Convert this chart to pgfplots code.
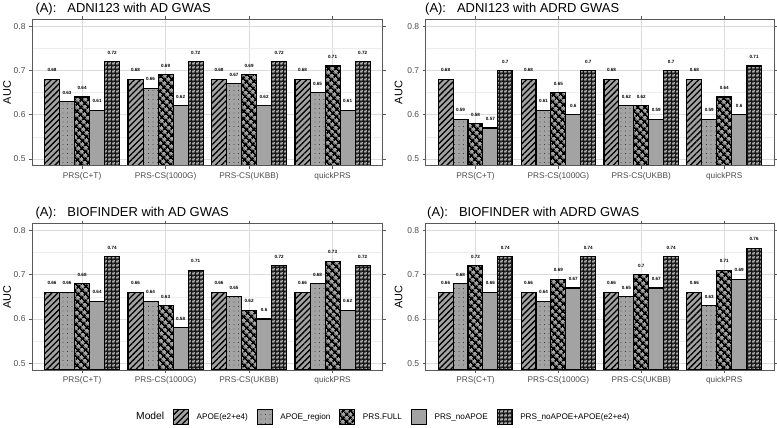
\documentclass[border=0pt]{standalone}
\usepackage{pgfplots}
\pgfplotsset{compat=1.18}
\usepackage{pgfplotstable}
\usepackage{fontspec}
\setmainfont{Liberation Sans}
\usetikzlibrary{patterns,patterns.meta}

\definecolor{barg}{gray}{0.64}
\definecolor{gridc}{gray}{0.86}
\definecolor{gridm}{gray}{0.93}
\definecolor{borderc}{gray}{0.35}
\definecolor{tickc}{gray}{0.3}

\tikzdeclarepattern{
  name=weave, type=uncolored,
  bottom left={(0bp,0bp)}, top right={(3.6bp,3.6bp)}, tile size={(3.6bp,3.6bp)},
  code={
    \draw[line width=0.6bp] (0.3bp,0.5bp) -- (1.2bp,3.1bp) -- (2.1bp,0.5bp) -- (3.0bp,3.1bp);
  }
}

\pgfplotstableread{
x a b c d e
1 0.68 0.63 0.64 0.61 0.72
2 0.68 0.66 0.69 0.62 0.72
3 0.68 0.67 0.69 0.62 0.72
4 0.68 0.65 0.71 0.61 0.72
}\tabA
\pgfplotstableread{
x a b c d e
1 0.68 0.59 0.58 0.57 0.70
2 0.68 0.61 0.65 0.60 0.70
3 0.68 0.62 0.62 0.59 0.70
4 0.68 0.59 0.64 0.60 0.71
}\tabB
\pgfplotstableread{
x a b c d e
1 0.66 0.66 0.68 0.64 0.74
2 0.66 0.64 0.63 0.58 0.71
3 0.66 0.65 0.62 0.60 0.72
4 0.66 0.68 0.73 0.62 0.72
}\tabC
\pgfplotstableread{
x a b c d e
1 0.66 0.68 0.72 0.66 0.74
2 0.66 0.64 0.69 0.67 0.74
3 0.66 0.65 0.70 0.67 0.74
4 0.66 0.63 0.71 0.69 0.76
}\tabD

\pgfplotsset{
  /pgf/number format/assume math mode=true,
  b1/.style={fill=barg, draw=black, line width=1.1bp, postaction={pattern={Lines[angle=45,distance=4.2bp,line width=1.3bp]}, pattern color=black}},
  b2/.style={fill=barg, draw=black, line width=1.1bp, postaction={pattern={Dots[distance=4.5bp,radius=0.45bp]}, pattern color=black}},
  b3/.style={fill=barg, draw=black, line width=1.1bp, postaction={pattern={Hatch[angle=45,distance=5.2bp,line width=1.9bp]}, pattern color=black}},
  b4/.style={fill=barg, draw=black, line width=1.1bp},
  b5/.style={fill=black!92, draw=black, line width=1.1bp, postaction={pattern=weave, pattern color=white!82!black}},
  panel/.style={
    scale only axis, ybar, bar width=0.18,
    xmin=0.4, xmax=4.6, ymin=0.485, ymax=0.815,
    xtick={1,2,3,4},
    xticklabels={PRS(C+T),PRS-CS(1000G),PRS-CS(UKBB),quickPRS},
    ytick={0.5,0.6,0.7,0.8}, yticklabels={0.5,0.6,0.7,0.8},
    minor ytick={0.55,0.65,0.75},
    grid=both,
    major grid style={gridc, line width=0.55bp},
    minor grid style={gridm, line width=0.4bp},
    axis line style={draw=none},
    tick style={borderc, line width=0.6bp},
    tick align=outside, major tick length=3bp, minor tick length=0pt,
    ticklabel style={text=tickc},
    yticklabel style={font=\fontsize{8.5}{10}\selectfont},
    xticklabel style={font=\fontsize{8.3}{10}\selectfont},
    ylabel={AUC},
    every axis y label/.style={rotate=90, anchor=center, font=\fontsize{11}{13}\selectfont},
    title style={anchor=base west, yshift=1bp, font=\fontsize{13}{15}\selectfont},
    clip mode=individual,
    nodes near coords,
    every node near coord/.append style={font=\fontsize{4.6}{5}\selectfont\bfseries, anchor=center, yshift=9bp, text=black},
  },
}

\newcommand{\panelplots}[1]{%
  \addplot[b1, bar shift=-0.36] table[x=x,y=a]{#1};
  \addplot[b2, bar shift=-0.18] table[x=x,y=b]{#1};
  \addplot[b3, bar shift=0] table[x=x,y=c]{#1};
  \addplot[b4, bar shift=0.18] table[x=x,y=d]{#1};
  \addplot[b5, bar shift=0.36] table[x=x,y=e]{#1};
  \draw[borderc, line width=0.8bp] (rel axis cs:0,0) rectangle (rel axis cs:1,1);
}

\begin{document}
\begin{tikzpicture}
\path[use as bounding box] (0bp,0bp) rectangle (777bp,428bp);

\begin{axis}[panel, anchor=south west, at={(32bp,262.3bp)}, width=350.7bp, height=146.2bp,
  ylabel style={at={(axis description cs:-0.071,0.5)}},
  title style={at={(axis description cs:0,1)}},
  title={(A):\hspace{11bp}ADNI123 with AD GWAS}]
\panelplots{\tabA}
\end{axis}

\begin{axis}[panel, anchor=south west, at={(425.7bp,262.3bp)}, width=348.3bp, height=146.2bp,
  ylabel style={at={(axis description cs:-0.078,0.5)}},
  title style={at={(axis description cs:0,1)}, xshift=-4bp},
  title={(A):\hspace{11bp}ADNI123 with ADRD GWAS}]
\panelplots{\tabB}
\end{axis}

\begin{axis}[panel, anchor=south west, at={(32bp,58bp)}, width=350.7bp, height=146.3bp,
  ylabel style={at={(axis description cs:-0.071,0.5)}},
  title style={at={(axis description cs:0,1)}},
  title={(A):\hspace{11bp}BIOFINDER with AD GWAS}]
\panelplots{\tabC}
\end{axis}

\begin{axis}[panel, anchor=south west, at={(425.7bp,58bp)}, width=348.3bp, height=146.3bp,
  ylabel style={at={(axis description cs:-0.078,0.5)}},
  title style={at={(axis description cs:0,1)}, xshift=-2bp},
  title={(A):\hspace{11bp}BIOFINDER with ADRD GWAS}]
\panelplots{\tabD}
\end{axis}

\begin{axis}[at={(380bp,11bp)}, anchor=center, hide axis, scale only axis,
  width=1bp, height=1bp, xmin=0, xmax=1, ymin=0, ymax=1,
  legend columns=-1,
  legend style={at={(0.5,0.5)}, anchor=center, draw=none, fill=none,
    font=\fontsize{8.2}{10}\selectfont,
    /tikz/every odd column/.append style={column sep=5.5bp},
    /tikz/every even column/.append style={column sep=7bp}},
  legend image code/.code={\draw[#1] (0bp,-7.5bp) rectangle (15bp,7.5bp);}]
\addlegendimage{empty legend}\addlegendentry{\fontsize{10.3}{12}\selectfont Model\hspace{-4bp}}
\addlegendimage{b1}\addlegendentry{APOE(e2+e4)}
\addlegendimage{b2}\addlegendentry{APOE\_region}
\addlegendimage{b3}\addlegendentry{PRS.FULL}
\addlegendimage{b4}\addlegendentry{PRS\_noAPOE}
\addlegendimage{b5}\addlegendentry{PRS\_noAPOE+APOE(e2+e4)}
\end{axis}
\end{tikzpicture}
\end{document}
